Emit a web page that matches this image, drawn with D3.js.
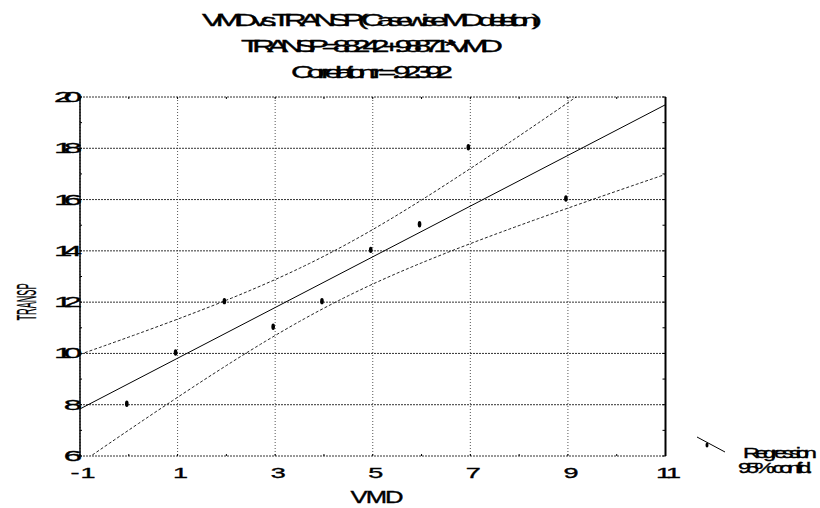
<!DOCTYPE html>
<html lang="en">
  <head>
    <meta charset="UTF-8" />
    <title>VMD vs TRANSP</title>
    <script src="https://d3js.org/d3.v7.min.js"></script>
    <style>
      body {
        margin: 0;
        background-color: #fff;
      }
      svg {
        display: block;
        font-family: "Liberation Sans", Arial, sans-serif;
      }
    </style>
  </head>
  <body>
    <svg id="chart" width="820" height="508"></svg>
    <script>
      // data
      const vmd = [0, 1, 2, 3, 4, 5, 6, 7, 9];
      const transp = [8, 10, 12, 11, 12, 14, 15, 18, 16];

      const xTicks = [-1, 1, 3, 5, 7, 9, 11];
      const yTicks = [6, 8, 10, 12, 14, 16, 18, 20];
      const xMinor = [0, 2, 4, 6, 8, 10];
      const yMinor = [7, 9, 11, 13, 15, 17, 19];

      const titleLines = [
        "VMD vs. TRANSP (Casewise MD deletion)",
        "TRANSP = 8.8242 + .98871 * VMD",
        "Correlation: r = .92392",
      ];
      const xLabel = "VMD";
      const yLabel = "TRANSP";
      const legendLabels = ["Regression", "95% confid."];

      const svg = d3.select("#chart");
      const pLeft = 80,
        pRight = 665.5,
        pTop = 97,
        pBottom = 456;

      const x = d3.scaleLinear().domain([-1, 11]).range([pLeft, pRight]);
      const y = d3.scaleLinear().domain([6, 20]).range([pBottom, pTop]);

      // wide glyphs squeezed together, like the original export
      function squish(g, px, py, str, fs, sx, width, anchor) {
        const t = g
          .append("text")
          .attr("transform", `translate(${px},${py}) scale(${sx},1)`)
          .attr("text-anchor", anchor || "middle")
          .attr("font-size", fs)
          .attr("fill", "#000")
          .attr("stroke", "#000")
          .attr("stroke-width", 0.35)
          .text(str);
        if (width) t.attr("textLength", width / sx).attr("lengthAdjust", "spacing");
        return t;
      }

      // regression + 95% confidence band of the mean
      const n = vmd.length;
      const mx = d3.mean(vmd);
      const my = d3.mean(transp);
      const sxx = d3.sum(vmd, (v) => (v - mx) ** 2);
      const sxy = d3.sum(vmd, (v, i) => (v - mx) * (transp[i] - my));
      const slope = sxy / sxx;
      const icpt = my - slope * mx;
      const sse = d3.sum(vmd, (v, i) => (transp[i] - (icpt + slope * v)) ** 2);
      const se = Math.sqrt(sse / (n - 2));
      const tcrit = 2.365; // t(.975, 7)
      const half = (v) => tcrit * se * Math.sqrt(1 / n + (v - mx) ** 2 / sxx);
      const xs = d3.range(-1, 11.001, 0.1);

      // grid
      const grid = svg.append("g");
      grid
        .selectAll(".gx")
        .data(xTicks)
        .enter()
        .append("line")
        .attr("x1", (d) => x(d))
        .attr("x2", (d) => x(d))
        .attr("y1", pTop)
        .attr("y2", pBottom)
        .attr("stroke", "#555")
        .attr("stroke-dasharray", "1,2");
      grid
        .selectAll(".gy")
        .data(yTicks)
        .enter()
        .append("line")
        .attr("x1", pLeft)
        .attr("x2", pRight)
        .attr("y1", (d) => y(d))
        .attr("y2", (d) => y(d))
        .attr("stroke", "#333")
        .attr("stroke-dasharray", "2,1");

      // frame sides + inner ticks
      svg
        .append("line")
        .attr("x1", pLeft)
        .attr("x2", pLeft)
        .attr("y1", pTop)
        .attr("y2", pBottom)
        .attr("stroke", "#000")
        .attr("stroke-width", 1.5);
      svg
        .append("line")
        .attr("x1", pRight)
        .attr("x2", pRight)
        .attr("y1", pTop)
        .attr("y2", pBottom)
        .attr("stroke", "#000")
        .attr("stroke-width", 2);

      const ticks = svg.append("g").attr("stroke", "#000");
      xTicks.concat(xMinor).forEach((d) => {
        ticks.append("line").attr("x1", x(d)).attr("x2", x(d)).attr("y1", pTop).attr("y2", pTop + 2);
        ticks.append("line").attr("x1", x(d)).attr("x2", x(d)).attr("y1", pBottom).attr("y2", pBottom - 2);
      });
      yTicks.concat(yMinor).forEach((d) => {
        ticks.append("line").attr("x1", pLeft).attr("x2", pLeft + 2).attr("y1", y(d)).attr("y2", y(d));
        ticks.append("line").attr("x1", pRight).attr("x2", pRight - 3).attr("y1", y(d)).attr("y2", y(d));
      });

      // clipped plot content
      svg
        .append("clipPath")
        .attr("id", "plot-clip")
        .append("rect")
        .attr("x", pLeft)
        .attr("y", pTop)
        .attr("width", pRight - pLeft)
        .attr("height", pBottom - pTop);
      const plot = svg.append("g").attr("clip-path", "url(#plot-clip)");

      const line = d3
        .line()
        .x((d) => x(d[0]))
        .y((d) => y(d[1]));

      plot
        .append("path")
        .datum([
          [-1, icpt - slope],
          [11, icpt + slope * 11],
        ])
        .attr("d", line)
        .attr("fill", "none")
        .attr("stroke", "#000")
        .attr("stroke-width", 1);

      [1, -1].forEach((s) => {
        plot
          .append("path")
          .datum(xs.map((v) => [v, icpt + slope * v + s * half(v)]))
          .attr("d", line)
          .attr("fill", "none")
          .attr("stroke", "#222")
          .attr("stroke-dasharray", "3,2");
      });

      plot
        .selectAll(".pt")
        .data(vmd)
        .enter()
        .append("ellipse")
        .attr("cx", (d) => x(d) - 2)
        .attr("cy", (d, i) => y(transp[i]) - 1)
        .attr("rx", 1.8)
        .attr("ry", 3.2)
        .attr("fill", "#000");

      // tick labels
      const labels = svg.append("g");
      yTicks.forEach((d) => {
        const two = String(d).length > 1;
        squish(labels, 82, y(d) + 5, d, 15, 2.2, two ? 28 : null, "end");
      });
      xTicks.forEach((d) => {
        squish(labels, x(d) + 3, 478, d, 15, 1.8, String(d).length > 1 ? 25 : null);
      });

      // titles
      const tw = [340, 262, 162];
      titleLines.forEach((s, i) => {
        squish(svg, 372, 26 + i * 26, s, 16.5, 1.9, tw[i]);
      });

      // axis titles
      squish(svg, 377, 503, xLabel, 16, 1.6, 53);
      svg
        .append("text")
        .attr("transform", "translate(36,302) rotate(-90)")
        .attr("text-anchor", "middle")
        .attr("font-size", 27)
        .attr("stroke", "#000")
        .attr("stroke-width", 0.3)
        .attr("textLength", 37)
        .attr("lengthAdjust", "spacingAndGlyphs")
        .text(yLabel);

      // legend
      svg
        .append("line")
        .attr("x1", 697)
        .attr("y1", 437)
        .attr("x2", 725)
        .attr("y2", 452)
        .attr("stroke", "#000");
      svg
        .append("ellipse")
        .attr("cx", 707)
        .attr("cy", 445)
        .attr("rx", 1.5)
        .attr("ry", 2.5)
        .attr("fill", "#000");
      squish(svg, 743, 458, legendLabels[0], 14.5, 1.6, 74, "start");
      squish(svg, 738, 473, legendLabels[1], 14.5, 1.6, 75, "start");
    </script>
  </body>
</html>
